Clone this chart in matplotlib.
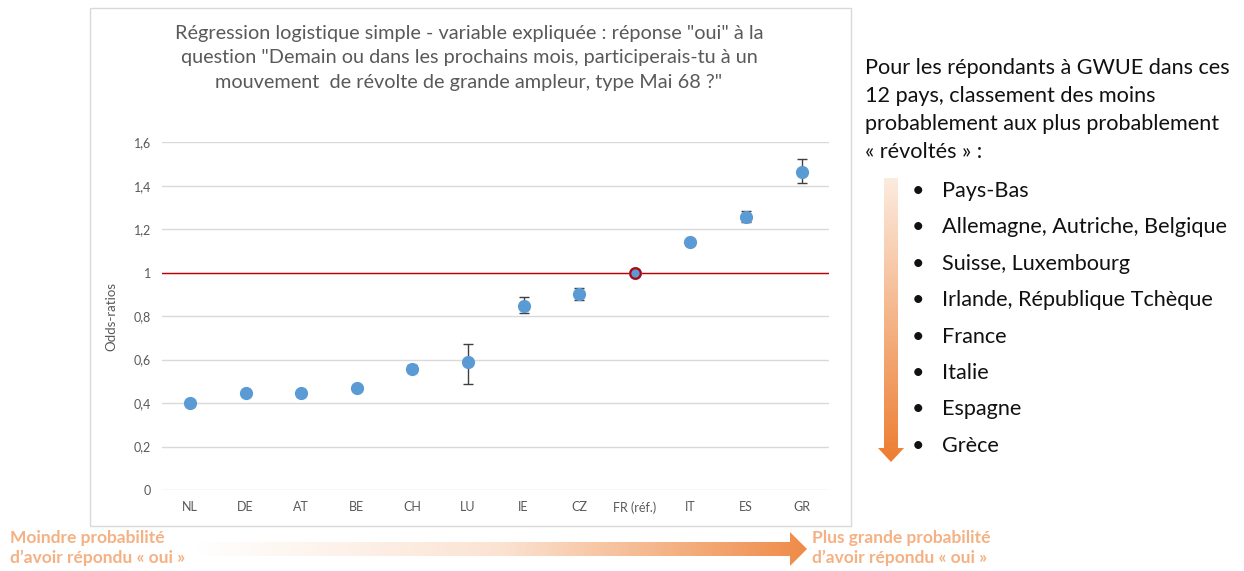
import numpy as np
import matplotlib
matplotlib.use("Agg")
import matplotlib.pyplot as plt
from matplotlib.patches import Polygon, Rectangle

plt.rcParams['font.family'] = ['Lato', 'DejaVu Sans']

# données : odds-ratios et intervalles
pays = ["NL", "DE", "AT", "BE", "CH", "LU", "IE", "CZ", "FR (réf.)", "IT", "ES", "GR"]
odds = [0.40, 0.445, 0.448, 0.468, 0.558, 0.587, 0.848, 0.902, 1.0, 1.140, 1.258, 1.465]
bas = [0.395, 0.438, 0.441, 0.461, 0.543, 0.487, 0.813, 0.874, 1.0, 1.128, 1.234, 1.414]
haut = [0.405, 0.452, 0.455, 0.475, 0.574, 0.673, 0.888, 0.931, 1.0, 1.152, 1.284, 1.522]
yticks = [0, 0.2, 0.4, 0.6, 0.8, 1, 1.2, 1.4, 1.6]
ytick_labels = ["0", "0,2", "0,4", "0,6", "0,8", "1", "1,2", "1,4", "1,6"]

classement = ["Pays-Bas", "Allemagne, Autriche, Belgique", "Suisse, Luxembourg",
              "Irlande, République Tchèque", "France", "Italie", "Espagne", "Grèce"]

W, H = 1244, 571
fig = plt.figure(figsize=(W / 100, H / 100), dpi=100)

# calque en pixels pour le cadre, les flèches et les textes
over = fig.add_axes([0, 0, 1, 1], zorder=0)
over.set_xlim(0, W)
over.set_ylim(H, 0)
over.axis("off")

over.add_patch(Rectangle((90, 8), 761, 518, fill=False, ec="#d9d9d9", lw=1))

# graphique
ax = fig.add_axes([162.3 / W, (H - 490) / H, 667 / W, (490 - 142.3) / H], zorder=2)
ax.patch.set_alpha(0)
x = np.arange(len(pays))
odds_a = np.array(odds)
err = [odds_a - np.array(bas), np.array(haut) - odds_a]
ax.set_xlim(-0.5, len(pays) - 0.5)
ax.set_ylim(0, 1.6)
ax.set_yticks(yticks)
ax.set_yticklabels(ytick_labels)
ax.set_xticks(x)
ax.set_xticklabels(pays)
ax.grid(axis="y", color="#d9d9d9", lw=1)
ax.set_axisbelow(True)
for s in ax.spines.values():
    s.set_visible(False)
ax.tick_params(length=0, colors="#595959", labelsize=9, pad=8)
ax.axhline(1, color="#c00000", lw=1, zorder=2)
ax.errorbar(x, odds, yerr=err, fmt="none", ecolor="#404040", elinewidth=1,
            capsize=3.5, capthick=1, zorder=3)
ax.plot(x, odds, "o", color="#5b9bd5", ms=8.5, mec="#5b9bd5", zorder=4)
ifr = pays.index("FR (réf.)")
ax.plot(x[ifr], odds[ifr], "o", color="#5b9bd5", ms=7.5, mec="#c00000", mew=1.5, zorder=5)
ax.set_ylabel("Odds-ratios", color="#595959", fontsize=9.5, labelpad=12)

over.text(469, 58, 'Régression logistique simple - variable expliquée : réponse "oui" à la\n'
          'question "Demain ou dans les prochains mois, participerais-tu à un\n'
          'mouvement  de révolte de grande ampleur, type Mai 68 ?"',
          ha="center", va="center", color="#595959", fontsize=14.3, linespacing=1.52)

# texte de droite
over.text(865, 58, "Pour les répondants à GWUE dans ces\n12 pays, classement des moins\n"
          "probablement aux plus probablement\n« révoltés » :",
          ha="left", va="top", color="#111111", fontsize=15.6, linespacing=1.5)
for i, nom in enumerate(classement):
    yy = 191 + i * 36.4
    over.text(912, yy, "•", ha="left", va="center", fontsize=15.6, color="#111111")
    over.text(942, yy, nom, ha="left", va="center", fontsize=15.6, color="#111111")

# flèche verticale en dégradé
cmap_v = matplotlib.colors.LinearSegmentedColormap.from_list("v", ["#fcebdf", "#ed7d31"])
vpoly = Polygon([(884, 178), (898, 178), (898, 448), (904, 448), (891, 462),
                 (878, 448), (884, 448)], closed=True, fc="none", ec="none")
over.add_patch(vpoly)
grad = np.linspace(0, 1, 256).reshape(-1, 1)
im = over.imshow(grad, cmap=cmap_v, extent=(876, 906, 462, 178), aspect="auto", zorder=1)
im.set_clip_path(vpoly)

# flèche horizontale en dégradé
cmap_h = matplotlib.colors.LinearSegmentedColormap.from_list("h", ["#ffffff", "#fbe3d2", "#ef8b48"])
hpoly = Polygon([(195, 542), (790, 542), (790, 532), (807, 549), (790, 566),
                 (790, 556), (195, 556)], closed=True, fc="none", ec="none")
over.add_patch(hpoly)
im2 = over.imshow(grad.T, cmap=cmap_h, extent=(195, 807, 566, 532), aspect="auto", zorder=1)
im2.set_clip_path(hpoly)

orange = "#f4b183"
for xt, l1 in [(10, "Moindre probabilité"), (812, "Plus grande probabilité")]:
    over.text(xt, 538, l1, ha="left", va="center", color=orange,
              fontsize=12.5, fontweight="bold")
    over.text(xt, 558, "d’avoir répondu « oui »", ha="left", va="center", color=orange,
              fontsize=12.5, fontweight="bold")

fig.savefig("out.png", dpi=100)
